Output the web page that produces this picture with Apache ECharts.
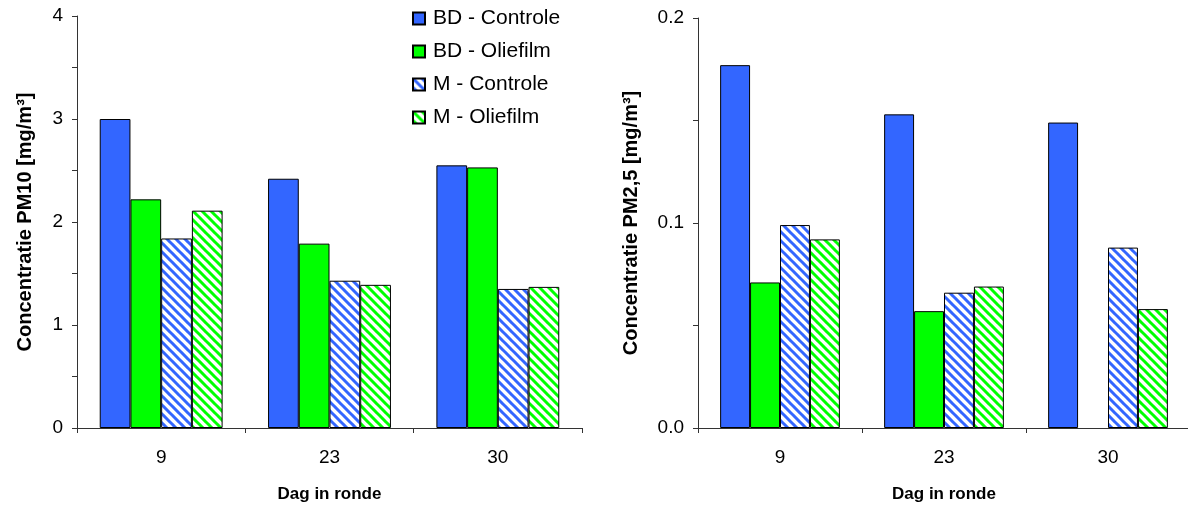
<!DOCTYPE html>
<html>
<head>
<meta charset="utf-8">
<script src="https://cdn.jsdelivr.net/npm/echarts@6/dist/echarts.min.js"></script>
<style>
  html, body { margin: 0; padding: 0; background: #fff; }
  #chart { width: 1188px; height: 510px; }
</style>
</head>
<body>
<div id="chart"></div>
<script>
// Days in the round (x categories)
const categories = ['9', '23', '30'];

// PM10 concentration [mg/m3]
const pm10BDControle = [3.0, 2.42, 2.55];
const pm10BDOliefilm = [2.22, 1.79, 2.53];
const pm10MControle  = [1.84, 1.43, 1.35];
const pm10MOliefilm  = [2.11, 1.39, 1.37];

// PM2,5 concentration [mg/m3] (no BD - Oliefilm value on day 30)
const pm25BDControle = [0.177, 0.153, 0.149];
const pm25BDOliefilm = [0.071, 0.057, null];
const pm25MControle  = [0.099, 0.066, 0.088];
const pm25MOliefilm  = [0.092, 0.069, 0.058];

const seriesNames = ['BD - Controle', 'BD - Oliefilm', 'M - Controle', 'M - Oliefilm'];

const BLUE = '#3366FF';
const GREEN = '#00FF00';
const FONT = '"Liberation Sans", Arial, sans-serif';

// Diagonal "\" stripe tile used for the M series
function stripes(color) {
  const s = 9;
  const c = document.createElement('canvas');
  c.width = s; c.height = s;
  const g = c.getContext('2d');
  g.fillStyle = '#ffffff';
  g.fillRect(0, 0, s, s);
  g.strokeStyle = color;
  g.lineWidth = 3;
  g.beginPath();
  for (let k = -1; k <= 1; k++) {
    g.moveTo(k * s - 1, -1);
    g.lineTo(k * s + s + 1, s + 1);
  }
  g.stroke();
  return { image: c, repeat: 'repeat' };
}

const fills = [BLUE, GREEN, stripes(BLUE), stripes(GREEN)];

function bars(gridIdx, values) {
  return values.map((data, i) => ({
    name: seriesNames[i],
    type: 'bar',
    xAxisIndex: gridIdx,
    yAxisIndex: gridIdx,
    data: data,
    barGap: '0%',
    barCategoryGap: '27%',
    itemStyle: { color: fills[i], borderColor: '#000', borderWidth: 1 },
    emphasis: { disabled: true }
  }));
}

function xAxis(gridIdx) {
  return {
    type: 'category',
    gridIndex: gridIdx,
    data: categories,
    name: 'Dag in ronde',
    nameLocation: 'middle',
    nameGap: 58,
    nameTextStyle: { fontFamily: FONT, fontSize: 17, fontWeight: 'bold', color: '#000' },
    axisLine: { lineStyle: { color: '#333', width: 1 } },
    axisTick: { show: true, length: 5, lineStyle: { color: '#333' } },
    axisLabel: { fontFamily: FONT, fontSize: 19, color: '#000', margin: 20 },
    splitLine: { show: false }
  };
}

function yAxis(gridIdx, max, interval, nameGap, title, fmt) {
  return {
    type: 'value',
    gridIndex: gridIdx,
    min: 0,
    max: max,
    interval: interval,
    name: title,
    nameLocation: 'middle',
    nameGap: nameGap,
    nameRotate: 90,
    nameTextStyle: { fontFamily: FONT, fontSize: 20, fontWeight: 'bold', color: '#000' },
    axisLine: { show: true, lineStyle: { color: '#333', width: 1 } },
    axisTick: { show: true, length: 5, lineStyle: { color: '#333' } },
    minorTick: { show: true, splitNumber: 2, length: 5, lineStyle: { color: '#333' } },
    axisLabel: { fontFamily: FONT, fontSize: 19, color: '#000', margin: 14, formatter: fmt },
    splitLine: { show: false },
    minorSplitLine: { show: false }
  };
}

const chart = echarts.init(document.getElementById('chart'), null, { renderer: 'canvas' });
chart.setOption({
  animation: false,
  backgroundColor: '#fff',
  legend: {
    data: seriesNames,
    orient: 'vertical',
    left: 412,
    top: 8,
    padding: 0,
    itemWidth: 12,
    itemHeight: 12,
    itemGap: 12,
    icon: 'rect',
    selectedMode: false,
    textStyle: { fontFamily: FONT, fontSize: 21, color: '#000', padding: [0, 0, 0, 3] }
  },
  grid: [
    { left: 77, top: 16, width: 505, height: 412, containLabel: false, outerBoundsMode: 'none' },
    { left: 698, top: 18, width: 492, height: 410, containLabel: false, outerBoundsMode: 'none' }
  ],
  xAxis: [xAxis(0), xAxis(1)],
  yAxis: [
    yAxis(0, 4, 1, 42, 'Concentratie PM10 [mg/m³]', v => String(v)),
    yAxis(1, 0.2, 0.1, 57, 'Concentratie PM2,5 [mg/m³]', v => v.toFixed(1))
  ],
  series: [
    ...bars(0, [pm10BDControle, pm10BDOliefilm, pm10MControle, pm10MOliefilm]),
    ...bars(1, [pm25BDControle, pm25BDOliefilm, pm25MControle, pm25MOliefilm])
  ]
});
</script>
</body>
</html>
